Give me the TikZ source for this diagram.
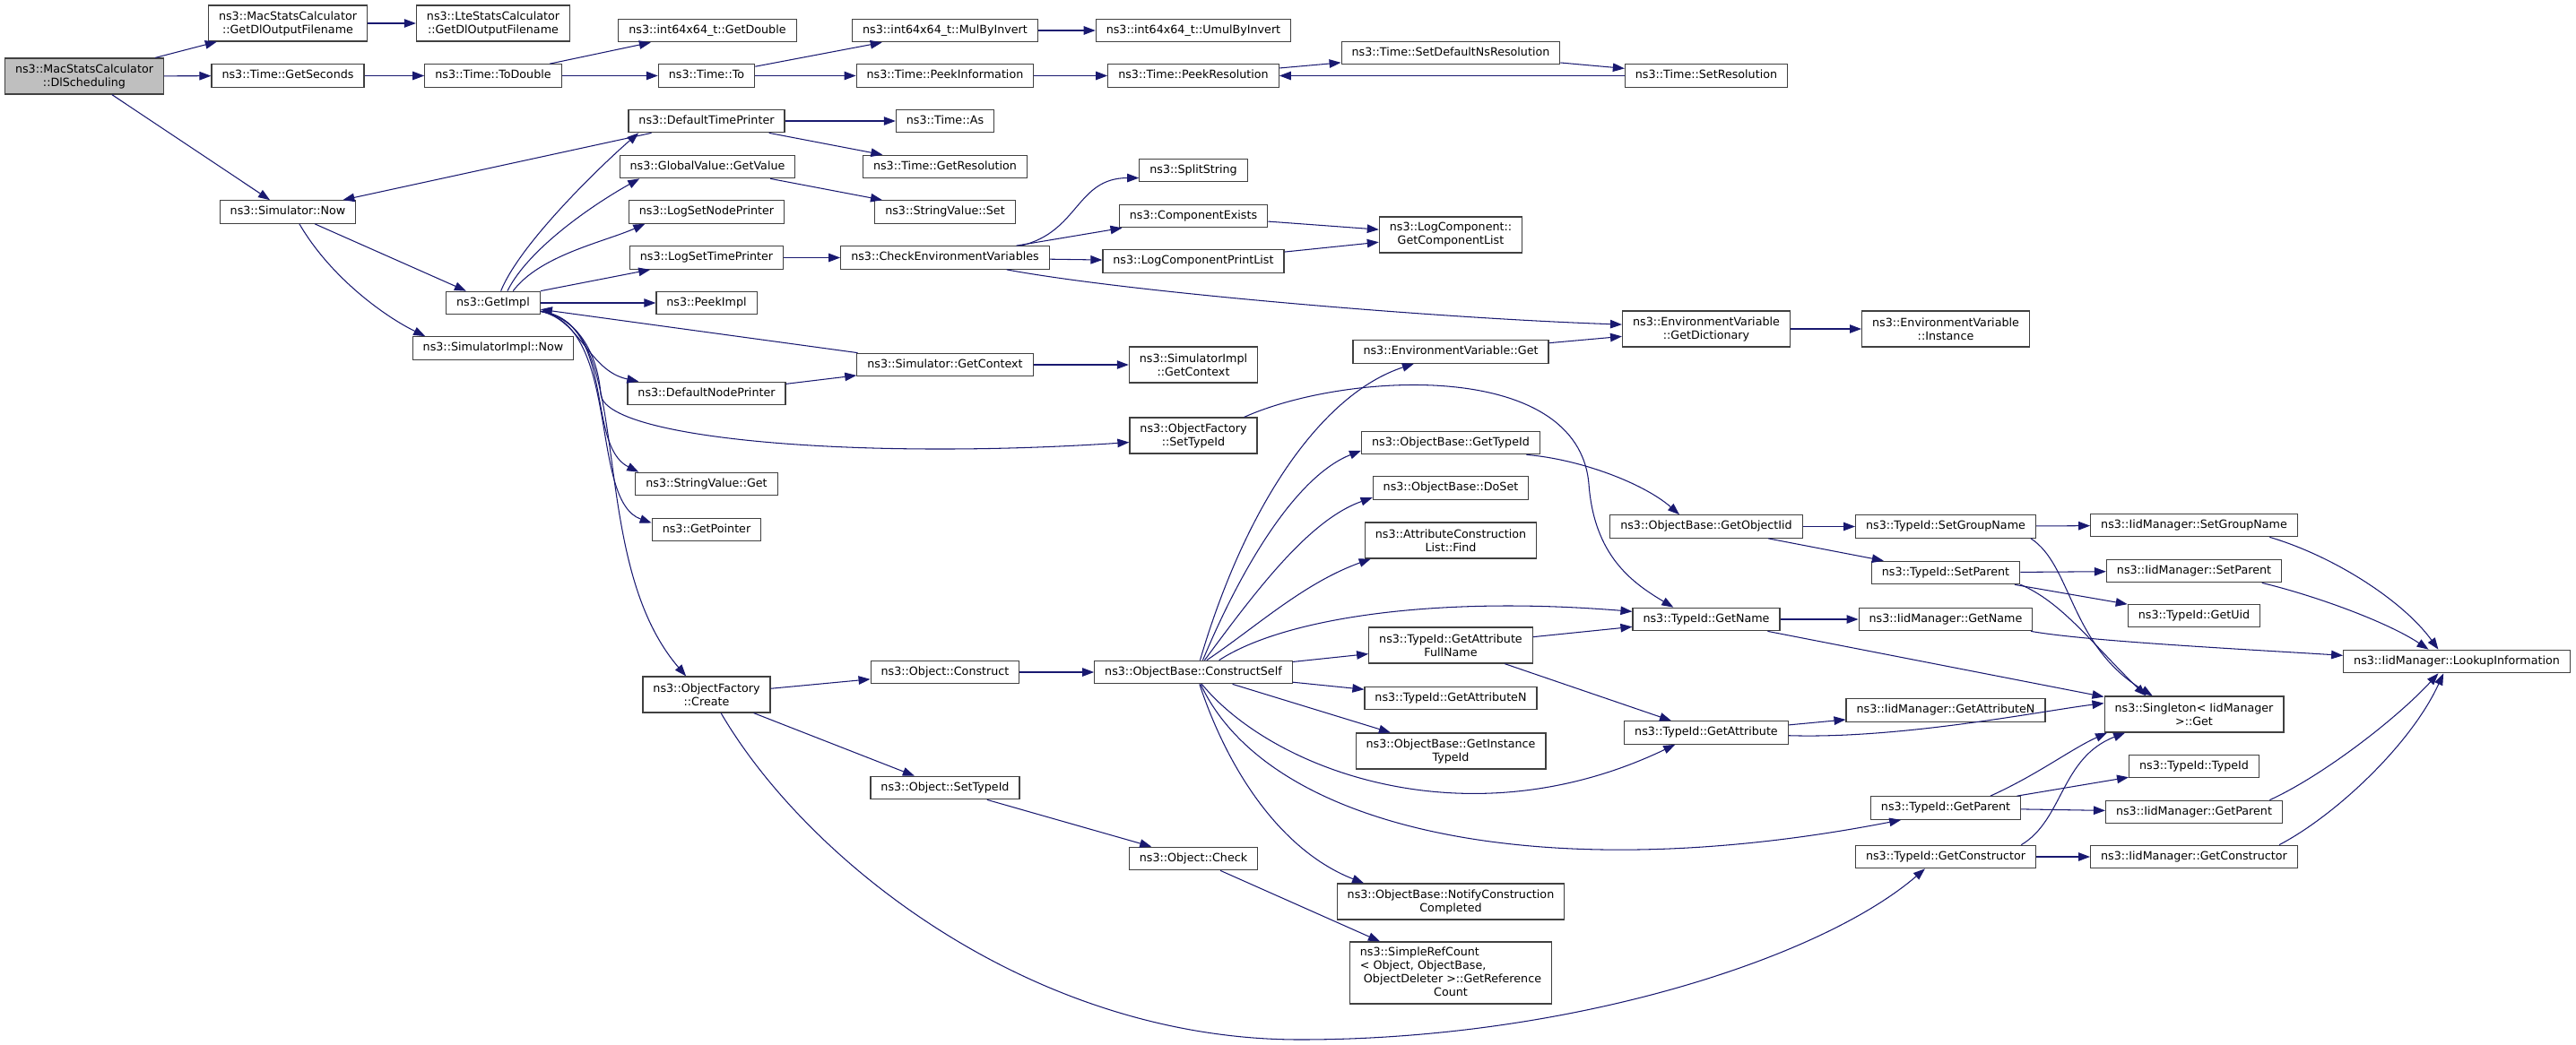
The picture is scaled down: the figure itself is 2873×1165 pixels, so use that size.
\documentclass[tikz,border=0pt]{standalone}
\usepackage{fontspec}
\setmainfont{DejaVu Sans}
\usepackage{xcolor}
\usepackage{tikz}
\usetikzlibrary{arrows.meta}

\definecolor{edgeblue}{HTML}{191970}
\definecolor{boxline}{HTML}{404040}
\definecolor{boxgray}{HTML}{BFBFBF}

\begin{document}
\begin{tikzpicture}[x=1pt, y=-1pt,
		fnbox/.style={draw=boxline, fill=white, line width=1.2pt, inner xsep=11.5pt, inner ysep=3pt, align=center, font=\fontsize{12.7}{15}\selectfont},
		fn/.style={fnbox, minimum height=25.5pt, text height=9.6pt, text depth=2.9pt},
		fn2/.style={fnbox, minimum height=40pt},
		call/.style={draw=edgeblue, line width=1.05pt, -{Triangle[length=13pt, width=9.5pt]}}]
		\useasboundingbox (0,0) rectangle (2873,1165);

		\node[fn2, fill=boxgray] (dlsched) at (94,85) {ns3::MacStatsCalculator\\::DlScheduling};

		\node[fn2] (macgetdl) at (321,26) {ns3::MacStatsCalculator\\::GetDlOutputFilename};
		\node[fn] (getseconds) at (321,84.5) {ns3::Time::GetSeconds};
		\node[fn] (simnow) at (321,236.5) {ns3::Simulator::Now};

		\node[fn2] (ltegetdl) at (550,26) {ns3::LteStatsCalculator\\::GetDlOutputFilename};
		\node[fn] (todouble) at (550,84.5) {ns3::Time::ToDouble};
		\node[fn] (getimpl) at (550,338) {ns3::GetImpl};
		\node[fn] (simimplnow) at (550,388.5) {ns3::SimulatorImpl::Now};

		\node[fn] (getdouble) at (789,34) {ns3::int64x64\_t::GetDouble};
		\node[fn] (timeto) at (788,84.5) {ns3::Time::To};
		\node[fn] (dtprinter) at (788,135) {ns3::DefaultTimePrinter};
		\node[fn] (gvget) at (789,186) {ns3::GlobalValue::GetValue};
		\node[fn] (lsnode) at (788,236.5) {ns3::LogSetNodePrinter};
		\node[fn] (lstime) at (788,287.5) {ns3::LogSetTimePrinter};
		\node[fn] (peekimpl) at (788,338) {ns3::PeekImpl};
		\node[fn] (dnprinter) at (788,439) {ns3::DefaultNodePrinter};
		\node[fn] (svget) at (788,540) {ns3::StringValue::Get};
		\node[fn] (getptr) at (788,591) {ns3::GetPointer};
		\node[fn2] (ofcreate) at (788,775) {ns3::ObjectFactory\\::Create};

		\node[fn] (mulbyinv) at (1054,34) {ns3::int64x64\_t::MulByInvert};
		\node[fn] (peekinfo) at (1054,84.5) {ns3::Time::PeekInformation};
		\node[fn] (timeas) at (1054,135) {ns3::Time::As};
		\node[fn] (getres) at (1054,186) {ns3::Time::GetResolution};
		\node[fn] (svset) at (1054,236.5) {ns3::StringValue::Set};
		\node[fn] (checkenv) at (1054,287.5) {ns3::CheckEnvironmentVariables};
		\node[fn] (simctx) at (1054,407) {ns3::Simulator::GetContext};
		\node[fn] (oconstruct) at (1054,750) {ns3::Object::Construct};
		\node[fn] (osettid) at (1054,879) {ns3::Object::SetTypeId};

		\node[fn] (umulbyinv) at (1331,34) {ns3::int64x64\_t::UmulByInvert};
		\node[fn] (peekres) at (1331,84.5) {ns3::Time::PeekResolution};
		\node[fn] (splitstr) at (1331,190) {ns3::SplitString};
		\node[fn] (compexists) at (1331,241) {ns3::ComponentExists};
		\node[fn] (lcprint) at (1331,291.5) {ns3::LogComponentPrintList};
		\node[fn2] (simimplctx) at (1331,407) {ns3::SimulatorImpl\\::GetContext};
		\node[fn2] (oftypeid) at (1331,486) {ns3::ObjectFactory\\::SetTypeId};
		\node[fn] (cself) at (1331,750) {ns3::ObjectBase::ConstructSelf};
		\node[fn] (ocheck) at (1331,958) {ns3::Object::Check};

		\node[fn] (setdefres) at (1618,59) {ns3::Time::SetDefaultNsResolution};
		\node[fn2] (getcomplist) at (1618,262) {ns3::LogComponent::\\GetComponentList};
		\node[fn] (evget) at (1618,392.5) {ns3::EnvironmentVariable::Get};
		\node[fn] (obgettid) at (1618,494) {ns3::ObjectBase::GetTypeId};
		\node[fn] (doset) at (1618,544.5) {ns3::ObjectBase::DoSet};
		\node[fn2] (acfind) at (1618,603) {ns3::AttributeConstruction\\List::Find};
		\node[fn2] (fullname) at (1618,720) {ns3::TypeId::GetAttribute\\FullName};
		\node[fn] (getattrn) at (1618,779) {ns3::TypeId::GetAttributeN};
		\node[fn2] (insttid) at (1618,838) {ns3::ObjectBase::GetInstance\\TypeId};
		\node[fn2] (notify) at (1618,1006) {ns3::ObjectBase::NotifyConstruction\\Completed};
		\node[fnbox, minimum height=69pt] (srcount) at (1618,1085.5) {\begin{tabular}{@{}l@{}}ns3::SimpleRefCount\\< Object, ObjectBase,\\\ ObjectDeleter >::GetReference\\\multicolumn{1}{@{}c@{}}{Count}\end{tabular}};

		\node[fn] (setres) at (1903,84.5) {ns3::Time::SetResolution};
		\node[fn2] (getdict) at (1903,367) {ns3::EnvironmentVariable\\::GetDictionary};
		\node[fn] (getoiid) at (1903,587.5) {ns3::ObjectBase::GetObjectIid};
		\node[fn] (getname) at (1903,691) {ns3::TypeId::GetName};
		\node[fn] (getattr) at (1903,817.5) {ns3::TypeId::GetAttribute};

		\node[fn2] (evinst) at (2170,367) {ns3::EnvironmentVariable\\::Instance};
		\node[fn] (tsetgroup) at (2170,587.5) {ns3::TypeId::SetGroupName};
		\node[fn] (tsetparent) at (2170,639) {ns3::TypeId::SetParent};
		\node[fn] (igetname) at (2170,691) {ns3::IidManager::GetName};
		\node[fn] (igetattrn) at (2170,792.5) {ns3::IidManager::GetAttributeN};
		\node[fn] (tgetparent) at (2170,901.5) {ns3::TypeId::GetParent};
		\node[fn] (tgetctor) at (2170,956) {ns3::TypeId::GetConstructor};

		\node[fn] (isetgroup) at (2447,586) {ns3::IidManager::SetGroupName};
		\node[fn] (isetparent) at (2447,637) {ns3::IidManager::SetParent};
		\node[fn] (getuid) at (2447,687) {ns3::TypeId::GetUid};
		\node[fn2] (singleton) at (2447,797) {ns3::Singleton< IidManager\\ >::Get};
		\node[fn] (typeidctor) at (2447,855) {ns3::TypeId::TypeId};
		\node[fn] (igetparent) at (2447,906) {ns3::IidManager::GetParent};
		\node[fn] (igetctor) at (2447,956) {ns3::IidManager::GetConstructor};

		\node[fn] (lookup) at (2740,738) {ns3::IidManager::LookupInformation};

		\draw[call] (dlsched) -- (macgetdl);
		\draw[call] (dlsched) -- (getseconds);
		\draw[call] (dlsched) -- (simnow);
		\draw[call] (macgetdl) -- (ltegetdl);
		\draw[call] (getseconds) -- (todouble);
		\draw[call] (todouble) -- (getdouble);
		\draw[call] (todouble) -- (timeto);
		\draw[call] (timeto) -- (mulbyinv);
		\draw[call] (timeto) -- (peekinfo);
		\draw[call] (mulbyinv) -- (umulbyinv);
		\draw[call] (peekinfo) -- (peekres);
		\draw[call] (peekres) -- (setdefres);
		\draw[call] (setdefres) -- (setres);
		\draw[call] (setres) -- (peekres);

		\draw[call] (simnow) -- (getimpl);
		\draw[call] (simnow.314) .. controls +(35,60) and +(-45,-22) .. (simimplnow.170);
		\draw[call] (dtprinter) -- (simnow);
		\draw[call] (dtprinter) -- (timeas);
		\draw[call] (dtprinter) -- (getres);

		\draw[call] (getimpl.57) .. controls +(22,-55) and +(-35,30) .. (dtprinter.190);
		\draw[call] (getimpl.40) .. controls +(25,-50) and +(-45,25) .. (gvget.190);
		\draw[call] (getimpl.31) .. controls +(30,-40) and +(-45,20) .. (lsnode.191);
		\draw[call] (getimpl.north east) -- (lstime.192);
		\draw[call] (getimpl) -- (peekimpl);
		\draw[call] (simctx) -- (getimpl);
		\draw[call] (getimpl.350) .. controls +(45,10) and +(-56,-12) .. (dnprinter.170);
		\draw[call] (getimpl.350) .. controls +(45,8) and +(-3,-40) .. (670,440) .. controls +(5,50) and +(-300,20) .. (oftypeid.186);
		\draw[call] (getimpl.350) .. controls +(85,13) and +(-60,-30) .. (svget.170);
		\draw[call] (getimpl.350) .. controls +(90,18) and +(-70,-25) .. (getptr.173);
		\draw[call] (getimpl.350) .. controls +(110,13) and +(-116,-135) .. (ofcreate.138);

		\draw[call] (gvget) -- (svset);
		\draw[call] (lstime) -- (checkenv);
		\draw[call] (checkenv.9) .. controls +(65,-15) and +(-70,0) .. (splitstr.188);
		\draw[call] (checkenv) -- (compexists);
		\draw[call] (checkenv) -- (lcprint);
		\draw[call] (checkenv.349) .. controls +(134,25) and +(-208,-7) .. (getdict.177);
		\draw[call] (compexists) -- (getcomplist);
		\draw[call] (lcprint) -- (getcomplist);
		\draw[call] (evget) -- (getdict);
		\draw[call] (getdict) -- (evinst);
		\draw[call] (simctx) -- (simimplctx);
		\draw[call] (dnprinter) -- (simctx);
		\draw[call] (oftypeid.20) .. controls (1500,415) and (1760,400) .. (1772,540) .. controls (1778,620) and (1820,650) .. (getname.160);

		\draw[call] (ofcreate) -- (oconstruct);
		\draw[call] (ofcreate) -- (osettid);
		\draw[call] (ofcreate.308) .. controls (900,960) and (1150,1160) .. (1450,1160) .. controls (1750,1160) and (2030,1070) .. (tgetctor.210);
		\draw[call] (oconstruct) -- (cself);
		\draw[call] (osettid) -- (ocheck);
		\draw[call] (ocheck) -- (srcount);

		\draw[call] (cself.61) .. controls +(52,-177) and +(-101,33) .. (evget.198);
		\draw[call] (cself.52) .. controls +(49,-117) and +(-68,27) .. (obgettid.185);
		\draw[call] (cself.47) .. controls +(57,-77) and +(-71,25) .. (doset.187);
		\draw[call] (cself.42) .. controls +(55,-37) and +(-75,27) .. (acfind.193);
		\draw[call] (cself.25) .. controls +(72,-47) and +(-220,-18) .. (getname.174);
		\draw[call] (cself) -- (fullname);
		\draw[call] (cself) -- (getattrn);
		\draw[call] (cself) -- (insttid);
		\draw[call] (cself.305) .. controls +(80,97) and +(-230,110) .. (getattr.201);
		\draw[call] (cself.301) .. controls +(78,167) and +(-390,76) .. (tgetparent.195);
		\draw[call] (cself.297) .. controls +(32,97) and +(-92,-36) .. (notify.168);

		\draw[call] (obgettid.351) .. controls +(60,5) and +(-40,-35) .. (getoiid.156);
		\draw[call] (getoiid) -- (tsetgroup);
		\draw[call] (getoiid) -- (tsetparent);
		\draw[call] (fullname) -- (getname);
		\draw[call] (fullname) -- (getattr);
		\draw[call] (getname) -- (igetname);
		\draw[call] (getname) -- (singleton);
		\draw[call] (getattr) -- (igetattrn);
		\draw[call] (getattr.358) .. controls +(126,4) and +(-66,8) .. (singleton.173);

		\draw[call] (tsetgroup) -- (isetgroup);
		\draw[call] (tsetgroup.352) .. controls +(46,30) and +(-93,-57) .. (singleton.156);
		\draw[call] (tsetparent) -- (isetparent);
		\draw[call] (tsetparent) -- (getuid);
		\draw[call] (tsetparent.351) .. controls +(47,20) and +(-59,-57) .. (singleton.159);
		\draw[call] (tgetparent.15) .. controls +(53,-24) and +(-40,18) .. (singleton.192);
		\draw[call] (tgetparent) -- (typeidctor);
		\draw[call] (tgetparent) -- (igetparent);
		\draw[call] (tgetctor.9) .. controls +(47,-28) and +(-72,28) .. (singleton.195);
		\draw[call] (tgetctor) -- (igetctor);

		\draw[call] (isetgroup.351) .. controls +(71,21) and +(-40,-55) .. (lookup.147);
		\draw[call] (isetparent.350) .. controls +(62,15) and +(-45,-30) .. (lookup.157);
		\draw[call] (igetname.352) .. controls +(61,11) and +(-111,-7) .. (lookup.177);
		\draw[call] (igetparent.9) .. controls +(61,-28) and +(-45,49) .. (lookup.213);
		\draw[call] (igetctor.8) .. controls +(63,-33) and +(-36,79) .. (lookup.222);
	\end{tikzpicture}
\end{document}
